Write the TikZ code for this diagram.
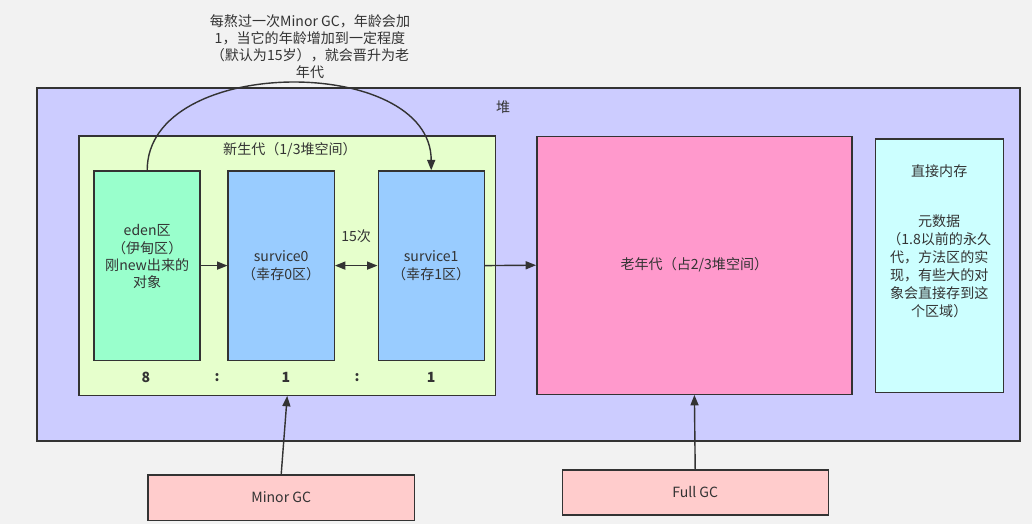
\documentclass[tikz,border=0pt]{standalone}
\usepackage{fontspec}
\setmainfont{Noto Sans CJK SC}
\usepackage{tikz}
\usetikzlibrary{arrows.meta,positioning}
\definecolor{bgc}{HTML}{F2F2F2}
\definecolor{linec}{HTML}{333333}
\definecolor{heapc}{HTML}{CCCCFF}
\definecolor{youngc}{HTML}{E6FFCC}
\definecolor{edenc}{HTML}{99FFCC}
\definecolor{survc}{HTML}{99CCFF}
\definecolor{oldc}{HTML}{FF99CC}
\definecolor{metac}{HTML}{CCFFFF}
\definecolor{gcc}{HTML}{FFCCCC}

\begin{document}
\begin{tikzpicture}[
  font=\fontsize{10pt}{12.4pt}\selectfont,
  text=linec,
  area/.style={draw=linec,line width=1pt,inner sep=0pt,align=center},
  zone/.style={area,minimum width=2.65cm,minimum height=4.73cm},
  gcbox/.style={area,fill=gcc,minimum width=6.65cm,minimum height=1.13cm},
  ratio/.style={font=\bfseries\fontsize{10pt}{12pt}\selectfont},
  arr/.style={-{Triangle[length=2.6mm,width=2mm]},draw=linec,line width=1pt}
]
\fill[bgc] (0,0) rectangle (25.8,-13.1);
\useasboundingbox (0,0) rectangle (25.8,-13.1);

\node[area,fill=heapc,minimum width=24.58cm,minimum height=8.83cm] (heap) at (13.21,-6.61) {};
\node (heaplbl) at (12.58,-2.68) {堆};

\node[area,fill=youngc,minimum width=10.4cm,minimum height=6.48cm] (young) at (7.18,-6.64) {};
\node (younglbl) at (7.25,-3.75) {新生代（1/3堆空间）};

\node[zone,fill=edenc] (eden) at (3.68,-6.64) {};
\node[align=center] (edentxt) at (3.68,-6.42) {eden区\\（伊甸区）\\刚new出来的\\对象};
\node[zone,fill=survc] (s0) at (7.03,-6.64) {survice0\\（幸存0区）};
\node[zone,fill=survc] (s1) at (10.78,-6.64) {survice1\\（幸存1区）};

\node[ratio] (r8) at (3.65,-9.43) {8};
\node[ratio] (c1) at (5.43,-9.43) {:};
\node[ratio] (r1a) at (7.15,-9.43) {1};
\node[ratio] (c2) at (8.93,-9.43) {:};
\node[ratio] (r1b) at (10.78,-9.43) {1};

\node[area,fill=oldc,minimum width=7.88cm,minimum height=6.45cm] (old) at (17.36,-6.63) {老年代（占2/3堆空间）};

\node[area,fill=metac,minimum width=3.2cm,minimum height=6.33cm] (meta) at (23.48,-6.64) {};
\node (metatitle) at (23.48,-4.28) {直接内存};
\node[align=center,font=\fontsize{10pt}{12.8pt}\selectfont] (metatxt) at (23.48,-6.65)
  {元数据\\（1.8以前的永久\\代，方法区的实\\现，有些大的对\\象会直接存到这\\个区域）};

\node[gcbox] (minor) at (7.03,-12.44) {Minor GC};
\node[gcbox] (full) at (17.38,-12.31) {Full GC};

\node[align=center,font=\fontsize{10pt}{12.2pt}\selectfont] (age) at (7.75,-1.16)
  {每熬过一次Minor GC，年龄会加\\1，当它的年龄增加到一定程度\\（默认为15岁），就会晋升为老\\年代};

\draw[arr] (eden.east) -- (s0.west);
\draw[arr,{Triangle[length=2.6mm,width=2mm]}-{Triangle[length=2.6mm,width=2mm]}] (s0.east) -- node[above=0.45cm] (cnt) {15次} (s1.west);
\draw[arr] (s1.east) -- (old.west);
\draw[arr] (eden.north) .. controls +(0,2.9) and +(0,2.9) .. (s1.north);
\draw[arr] (minor.north) -- (young.south);
\draw[arr] (full.north) -- (old.south);

\end{tikzpicture}
\end{document}
